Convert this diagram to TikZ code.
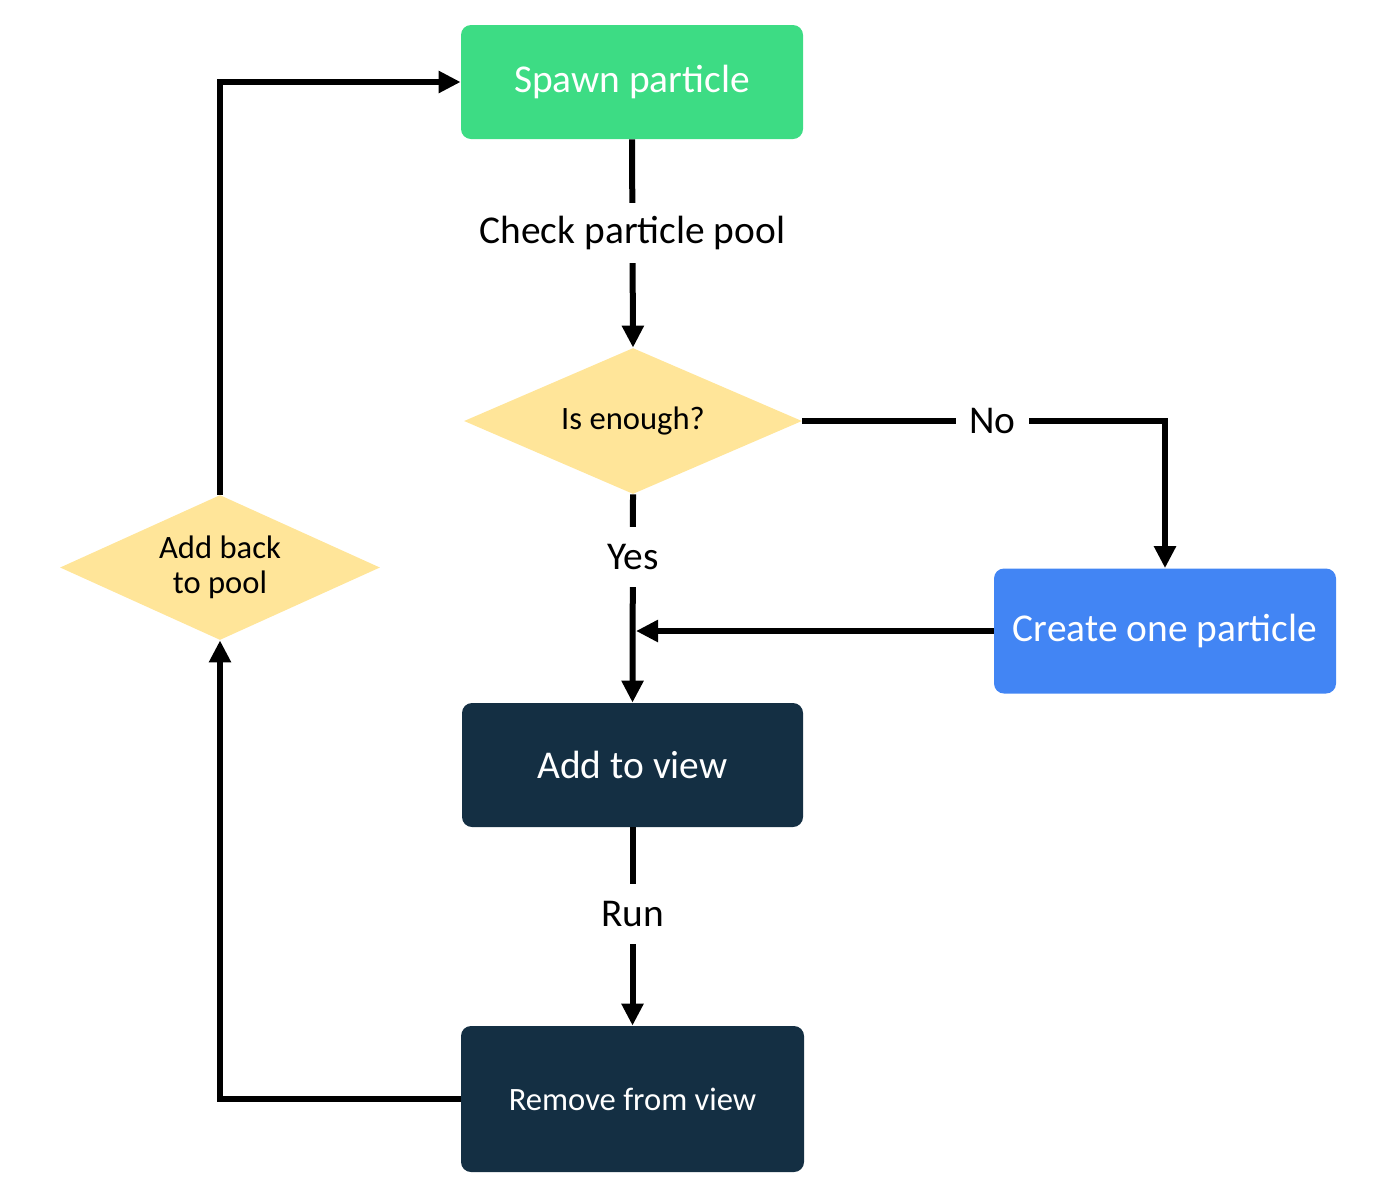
\documentclass[tikz,border=0pt]{standalone}
\usepackage{fontspec}
\setmainfont{Carlito}
\usetikzlibrary{shapes.geometric,arrows.meta}
\definecolor{cgreen}{HTML}{3DDC84}
\definecolor{cblue}{HTML}{4285F4}
\definecolor{cdark}{HTML}{142F43}
\definecolor{cyellow}{HTML}{FFE599}
\newcommand{\bigtxt}{\fontsize{19.7}{23}\selectfont}
\newcommand{\smalltxt}{\fontsize{16.3}{17.5}\selectfont}
\begin{document}
\begin{tikzpicture}[x=0.5pt,y=-0.5pt,
  box/.style={rectangle, rounded corners=5pt, draw=none, text=white, inner sep=0pt},
  decision/.style={diamond, draw=none, fill=cyellow, inner sep=0pt, align=center, font=\smalltxt},
  conn/.style={line width=3pt, -{Triangle[length=11pt,width=10.5pt]}},
  lab/.style={fill=white, font=\bigtxt, minimum height=30pt, inner xsep=6.5pt, inner ysep=0pt}]
\useasboundingbox (0,0) rectangle (1400,1200);

\node[box, fill=cgreen, minimum width=171pt, minimum height=57pt, font=\bigtxt] (spawn) at (632,82) {Spawn particle};
\node[decision, shape aspect=2.3, minimum width=169pt, minimum height=73pt] (enough) at (633,421) {Is enough?};
\node[box, fill=cblue, minimum width=171pt, minimum height=62.5pt, font=\bigtxt] (create) at (1165,631) {Create one particle};
\node[box, fill=cdark, minimum width=170.5pt, minimum height=62pt, font=\bigtxt] (addview) at (632.5,765) {Add to view};
\node[box, fill=cdark, minimum width=171.5pt, minimum height=73pt, font=\smalltxt] (remove) at (632.5,1099) {Remove from view};
\node[decision, shape aspect=2.2, minimum width=160pt, minimum height=72.5pt] (addback) at (220,567.5) {Add back\\to pool};

\coordinate (join) at (636,631);

\draw[conn] (spawn.south) -- node[lab, pos=0.45] (lcheck) {Check particle pool} (enough.north);
\draw[conn] (enough.east) -| node[lab, pos=0.262] (lno) {No} (create.north);
\draw[conn] (enough.south) -- node[lab, pos=0.30] (lyes) {Yes} (addview.north);
\draw[conn] (create.west) -- (join);
\draw[conn] (addview.south) -- node[lab, pos=0.437] (lrun) {Run} (remove.north);
\draw[conn] (remove.west) -| (addback.south);
\draw[conn] (addback.north) |- (spawn.west);
\end{tikzpicture}
\end{document}
